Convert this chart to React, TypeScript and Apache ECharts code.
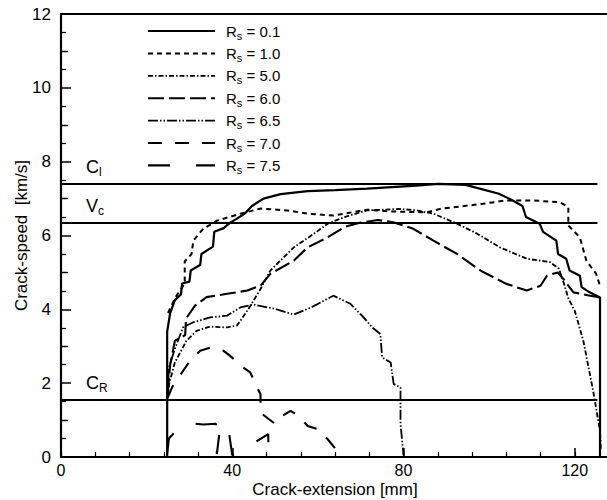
import React, { useEffect, useRef } from "react";
import * as echarts from "echarts";

// ---------- data ----------
const RS_LABELS = ["0.1", "1.0", "5.0", "6.0", "6.5", "7.0", "7.5"];

const RS_0_1: number[][] = [
  [24.8, 0], [24.8, 3.4], [25.5, 3.9], [26.6, 4.25], [28, 4.4], [28.3, 4.7], [30, 4.75],
  [30.3, 5.05], [32.5, 5.2], [32.8, 5.5], [35.5, 5.7], [35.8, 6.1], [38, 6.2], [39.5, 6.35],
  [41, 6.45], [43, 6.6], [44.6, 6.8], [47.3, 7.0], [51.3, 7.12], [57.6, 7.2], [64, 7.23],
  [71.5, 7.27], [83, 7.35], [88, 7.4], [94.5, 7.37], [97.8, 7.27], [102.3, 7.13],
  [105.5, 6.95], [107.8, 6.8], [108.6, 6.5], [111.8, 6.32], [112.6, 6.1], [115.7, 5.86],
  [116.1, 5.5], [118, 5.37], [118.8, 5.05], [121.2, 4.91], [121.6, 4.6], [123.5, 4.46],
  [125.9, 4.32], [125.9, 0],
];
const RS_1_0: number[][] = [
  [25, 3.9], [26.6, 4.3], [28.9, 4.7], [28.9, 5.3], [30.5, 5.5], [30.9, 5.86], [33.2, 6.18],
  [36.4, 6.4], [41.9, 6.59], [46.6, 6.73], [52.9, 6.68], [57.6, 6.59], [63.6, 6.54],
  [71.5, 6.7], [77, 6.65], [85.5, 6.63], [88.5, 6.72], [98.6, 6.86], [104, 6.95],
  [110.2, 6.95], [116.5, 6.9], [118.5, 6.77], [118.5, 6.27], [121.2, 5.95], [122.7, 5.32],
  [125, 4.96], [126, 4.6],
];
const RS_5_0: number[][] = [
  [24.9, 1.6], [25.3, 2.0], [26.6, 2.56], [29.3, 3.15], [31.7, 3.42], [34.8, 3.53],
  [38.8, 3.51], [41.1, 3.56], [43.5, 3.96], [46.6, 4.55], [48.9, 5.05], [54.4, 5.68],
  [59.1, 6.05], [62.3, 6.32], [66.2, 6.5], [71.5, 6.68], [79.2, 6.72], [83, 6.68],
  [87, 6.59], [92.5, 6.32], [97.2, 6.05], [102.5, 5.68], [108.8, 5.37], [114.2, 5.28],
  [116.3, 5.1], [117.5, 4.69], [118.5, 4.3], [120, 3.96], [122, 3.15], [124.3, 1.79],
  [125.9, 0.7], [126.1, 0.2],
];
const RS_6_0: number[][] = [
  [24.9, 1.7], [25.5, 2.5], [26.6, 3.15], [29, 3.3], [29.2, 3.75], [31.3, 4.1], [34, 4.33],
  [38.8, 4.42], [43.5, 4.51], [46.6, 4.64], [48.9, 4.96], [54.4, 5.32], [57.6, 5.68],
  [62.3, 5.95], [66.2, 6.23], [70, 6.35], [74, 6.42], [77.6, 6.36], [82.3, 6.18],
  [87, 5.86], [92.5, 5.5], [98, 5.05], [104, 4.69], [108.8, 4.51], [112, 4.64],
  [113.5, 4.91], [116, 5.0], [117.5, 4.8], [119.7, 4.46], [123, 4.38], [126, 4.32],
];
const RS_6_5: number[][] = [
  [24.9, 1.6], [25.2, 2.42], [26.6, 2.93], [28.5, 3.51], [30.9, 3.65], [34.8, 3.78],
  [38.8, 3.83], [41.9, 4.05], [45, 4.13], [49.7, 4.02], [54.4, 3.86], [58.4, 4.05],
  [63.6, 4.37], [67.6, 4.15], [70.3, 3.83], [72.7, 3.51], [74.6, 3.33], [75, 2.7],
  [77, 2.56], [77.7, 1.98], [79.3, 1.88], [79.3, 0.9], [80, 0.05],
];
const RS_7_0: number[][] = [
  [24.9, 1.6], [26, 1.9], [28.5, 2.33], [30.1, 2.6], [32.5, 2.88], [34.8, 2.96],
  [37.9, 2.88], [39.5, 2.74], [42.6, 2.42], [44.2, 2.29], [45.8, 1.88], [46.6, 1.7],
  [46.6, 1.2], [48.5, 1.03], [50, 0.9], [51.5, 1.1], [53.6, 1.25], [55.5, 1.11],
  [57.6, 0.84], [59.9, 0.76], [62.3, 0.48], [64.6, 0.15],
];
const RS_7_5: number[][] = [
  [24.8, 0.1], [25.2, 0.5], [26, 0.6], [28, 0.85], [29.3, 0.93], [33.2, 0.88],
  [36.2, 0.9], [36.4, 0.08], [37.2, 0.84], [39, 0.84], [39.5, 0.45], [40, 0.05],
  [44, 0.3], [48.4, 0.62], [48.5, 0.05],
];
const SERIES_DATA = [RS_0_1, RS_1_0, RS_5_0, RS_6_0, RS_6_5, RS_7_0, RS_7_5];

// reference speeds
const C_L = 7.4;
const V_C = 6.35;
const C_R = 1.55;
const REF_END = 125.3;

const X_MIN = 0;
const X_MAX = 128;
const Y_MIN = 0;
const Y_MAX = 12;
const X_LABELS = [0, 40, 80, 120];
const Y_ODD_TICKS = [1, 3, 5, 7, 9, 11];

// ---------- styles ----------
const FONT = "Liberation Sans, Arial, Helvetica, sans-serif";
const DASHES: any[] = [
  "solid",
  [5, 4],
  [5, 2, 1.5, 2],
  [16, 5],
  [10, 2, 1.5, 2, 1.5, 2],
  [14, 13],
  [22, 26],
];
const WIDTHS = [2.2, 2, 1.8, 2.1, 1.8, 2.1, 2.1];

export default function App() {
  const ref = useRef<HTMLDivElement>(null);
  useEffect(() => {
    if (!ref.current) return;
    const chart = echarts.init(ref.current, undefined, { renderer: "svg" });

    const subRich = {
      s: { fontSize: 11, padding: [9, 0, 0, 0], fontFamily: FONT, color: "#000" },
    };
    const refNames: Record<string, string> = { CL: "C{s|l}", VC: "V{s|c}", CR: "C{s|R}" };

    const series: any[] = SERIES_DATA.map((d, i) => ({
      name: "Rs = " + RS_LABELS[i],
      type: "line",
      xAxisIndex: 0,
      yAxisIndex: 0,
      data: d,
      showSymbol: false,
      symbol: "none",
      silent: true,
      lineStyle: { color: "#000", width: WIDTHS[i], type: DASHES[i] },
    }));
    series[0].markLine = {
      silent: true,
      symbol: ["none", "none"],
      lineStyle: { color: "#000", type: "solid", width: 2 },
      label: {
        show: true,
        position: "insideStartTop",
        distance: 6,
        padding: [0, 0, 0, 19],
        fontSize: 18,
        fontFamily: FONT,
        color: "#000",
        formatter: (p: any) => refNames[p.name] || "",
        rich: { s: { fontSize: 12, padding: [10, 0, 0, 0], fontFamily: FONT, color: "#000" } },
      },
      data: [
        [{ name: "CL", coord: [X_MIN, C_L] }, { coord: [REF_END, C_L] }],
        [{ name: "VC", coord: [X_MIN, V_C] }, { coord: [REF_END, V_C] }],
        [{ name: "CR", coord: [X_MIN, C_R] }, { coord: [REF_END, C_R] }],
      ],
    };

    // legend drawn as graphic
    const legendTop = 31;
    const legendStep = 22.4;
    const graphic: any[] = [];
    RS_LABELS.forEach((lab, i) => {
      const y = legendTop + i * legendStep;
      graphic.push({
        type: "line",
        silent: true,
        shape: { x1: 148, y1: y, x2: 215, y2: y },
        style: {
          stroke: "#000",
          lineWidth: WIDTHS[i],
          lineDash: DASHES[i] === "solid" ? null : DASHES[i],
        },
      });
      graphic.push({
        type: "text",
        silent: true,
        x: 226,
        y: y,
        style: {
          text: "R{s|s} = " + lab,
          fontSize: 15,
          fontFamily: FONT,
          fill: "#000",
          verticalAlign: "middle",
          rich: subRich,
        },
      });
    });

    const option: any = {
      animation: false,
      backgroundColor: "#fff",
      textStyle: { fontFamily: FONT },
      grid: {
        left: 61,
        top: 14,
        width: 548,
        height: 443,
        show: true,
        borderColor: "#000",
        borderWidth: 1.8,
        containLabel: false,
        outerBoundsMode: "none",
      },
      xAxis: [
        {
          type: "value",
          min: X_MIN,
          max: X_MAX,
          interval: 8,
          position: "bottom",
          name: "Crack-extension [mm]",
          nameLocation: "middle",
          nameGap: 24,
          nameMoveOverlap: false,
          nameTextStyle: { fontSize: 17, color: "#000", fontFamily: FONT },
          axisLine: { show: true, lineStyle: { color: "#000", width: 2.2 } },
          axisTick: { show: true, inside: true, length: 5, lineStyle: { color: "#000", width: 1.2 } },
          axisLabel: {
            show: true,
            customValues: X_LABELS,
            fontSize: 16,
            color: "#000",
            fontFamily: FONT,
            margin: 5,
          },
          splitLine: { show: false },
        },
        {
          type: "value",
          min: X_MIN,
          max: X_MAX,
          position: "bottom",
          axisLine: { show: false },
          axisTick: {
            show: true,
            inside: true,
            length: 9,
            customValues: X_LABELS,
            lineStyle: { color: "#000", width: 1.5 },
          },
          axisLabel: { show: false },
          splitLine: { show: false },
        },
      ],
      yAxis: [
        {
          type: "value",
          min: Y_MIN,
          max: Y_MAX,
          interval: 2,
          name: "Crack-speed  [km/s]",
          nameLocation: "middle",
          nameGap: 31,
          nameMoveOverlap: false,
          nameTextStyle: { fontSize: 17, color: "#000", fontFamily: FONT },
          axisLine: { show: true, lineStyle: { color: "#000", width: 2.2 } },
          axisTick: { show: true, inside: true, length: 10, lineStyle: { color: "#000", width: 1.5 } },
          minorTick: { show: true, splitNumber: 4, length: 5, lineStyle: { color: "#000", width: 1.2 } },
          axisLabel: { fontSize: 17, color: "#000", fontFamily: FONT, margin: 10 },
          splitLine: { show: false },
          minorSplitLine: { show: false },
        },
        {
          type: "value",
          min: Y_MIN,
          max: Y_MAX,
          position: "left",
          axisLine: { show: false },
          axisTick: {
            show: true,
            inside: true,
            length: 7,
            customValues: Y_ODD_TICKS,
            lineStyle: { color: "#000", width: 1.3 },
          },
          axisLabel: { show: false },
          splitLine: { show: false },
        },
      ],
      series,
      graphic,
    };
    chart.setOption(option);
    return () => chart.dispose();
  }, []);

  return (
    <div
      ref={ref}
      style={{ position: "fixed", left: 0, top: 0, width: 607, height: 500, background: "#fff" }}
    />
  );
}
